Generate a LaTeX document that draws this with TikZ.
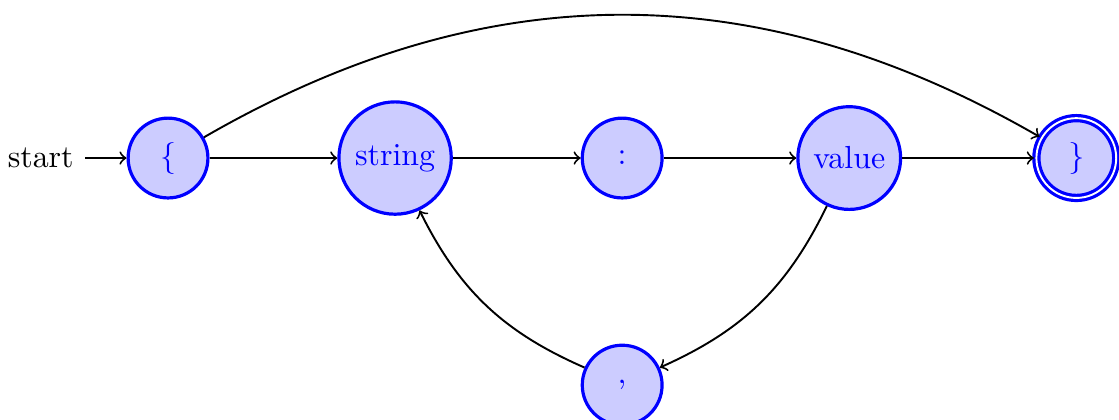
\documentclass[tikz,border=0pt]{standalone}
\usetikzlibrary{automata,positioning,arrows}
\begin{document}
\begin{tikzpicture}[->, >=to, node distance=2.5cm, semithick,
  every state/.style={draw=blue, fill=blue!20, text=blue, line width=1pt}]
\useasboundingbox (-1.85,-2.874) rectangle (10.47,1.74);
\node[state, initial] (q0) {\{};
\node[state] (q1) [right of=q0] {string};
\node[state] (q2) [right of=q1] {:};
\node[state] (q3) [right of=q2] {value};
\node[state, accepting] (q4) [right of=q3] {\}};
\node[state] (q5) [below of=q2] {,};
\path (q0) edge (q1)
      (q0) edge[bend left=30] (q4)
      (q1) edge (q2)
      (q2) edge (q3)
      (q3) edge (q4)
      (q3) edge[bend left=20] (q5)
      (q5) edge[bend left=20] (q1);
\end{tikzpicture}
\end{document}
